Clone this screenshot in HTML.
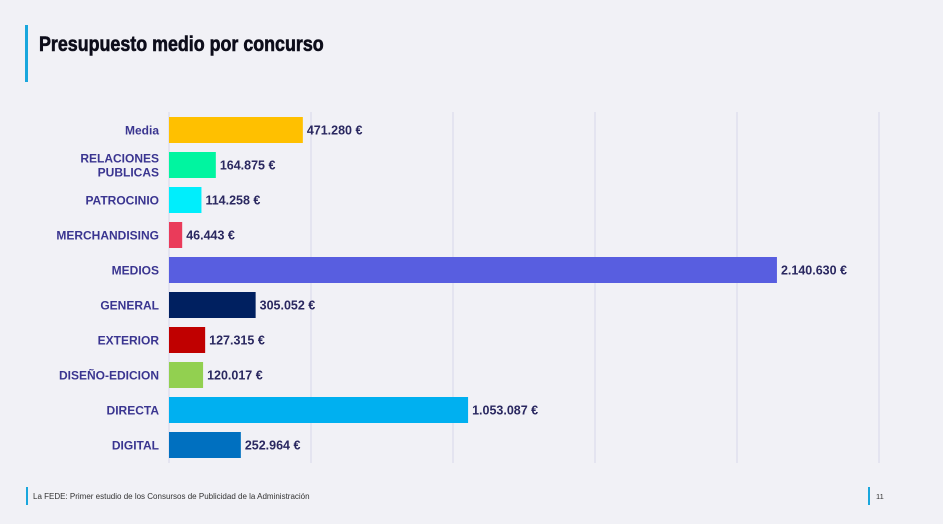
<!DOCTYPE html>
<html><head><meta charset="utf-8"><style>
body{margin:0;width:943px;height:524px;background:#f1f1f6;overflow:hidden;font-family:"Liberation Sans",sans-serif;position:relative}
.abs{position:absolute}
</style></head><body>
<div class="abs" style="left:25px;top:25px;width:3px;height:57px;background:#1aa7dd"></div>
<div class="abs" style="left:39px;top:33px;font-size:21px;font-weight:bold;color:#0d0d1a;transform:scaleX(0.85);transform-origin:left;-webkit-text-stroke:0.6px #0d0d1a">Presupuesto medio por concurso</div>
<svg class="abs" style="left:0;top:0" width="943" height="524">
<g id="grid"></g><g id="bars"></g>
</svg>
<div class="abs" style="left:26px;top:487px;width:2px;height:18px;background:#1aa7dd"></div>
<div class="abs" style="left:33px;top:492px;font-size:8px;color:#333;white-space:nowrap">La FEDE: Primer estudio de los Consursos de Publicidad de la Administración</div>
<div class="abs" style="left:868px;top:487px;width:2px;height:18px;background:#1aa7dd"></div>
<div class="abs" style="left:876px;top:492px;font-size:7.5px;color:#333">11</div>
<script>
const categories=["Media","RELACIONES|PUBLICAS","PATROCINIO","MERCHANDISING","MEDIOS","GENERAL","EXTERIOR","DISEÑO-EDICION","DIRECTA","DIGITAL"];
const values=[471280,164875,114258,46443,2140630,305052,127315,120017,1053087,252964];
const valueLabels=["471.280 €","164.875 €","114.258 €","46.443 €","2.140.630 €","305.052 €","127.315 €","120.017 €","1.053.087 €","252.964 €"];
const colors=["#ffc000","#00f5a0","#00eefc","#ea3b5a","#585ee0","#002060","#c00000","#92d050","#00b0f0","#0070c0"];
const ticks=[0,500000,1000000,1500000,2000000,2500000];
const NS="http://www.w3.org/2000/svg";
const x0=169,pxPer=142/500000,yTop=112,yBot=463,rowH=35,firstC=130,barH=26;
const X=v=>x0+v*pxPer, Y=i=>firstC+i*rowH;
const grid=document.getElementById('grid'),bars=document.getElementById('bars');
ticks.forEach((t,i)=>{const l=document.createElementNS(NS,'line');
l.setAttribute('x1',X(t));l.setAttribute('x2',X(t));l.setAttribute('y1',yTop);l.setAttribute('y2',yBot);
l.setAttribute('stroke','#dcdcec');l.setAttribute('stroke-width','1.2');


grid.appendChild(l);});
categories.forEach((c,i)=>{
const r=document.createElementNS(NS,'rect');
r.setAttribute('x',x0);r.setAttribute('y',Y(i)-barH/2);r.setAttribute('width',X(values[i])-x0);r.setAttribute('height',barH);r.setAttribute('fill',colors[i]);


bars.appendChild(r);
const t=document.createElementNS(NS,'text');
t.setAttribute('x',X(values[i])+4);t.setAttribute('y',Y(i)+4.5);t.setAttribute('font-size','12.5');t.setAttribute('font-weight','bold');t.setAttribute('fill','#2a2860');
t.textContent=valueLabels[i];


bars.appendChild(t);
const parts=c.split('|');
const lt=document.createElementNS(NS,'text');
lt.setAttribute('text-anchor','end');lt.setAttribute('font-size','12');lt.setAttribute('font-weight','bold');lt.setAttribute('fill','#3a3590');


parts.forEach((p,k)=>{const ts=document.createElementNS(NS,'tspan');ts.setAttribute('x',159);
ts.setAttribute('y',Y(i)+4.5+(k-(parts.length-1)/2)*14);ts.textContent=p;lt.appendChild(ts);});
bars.appendChild(lt);
});
</script>
</body></html>
